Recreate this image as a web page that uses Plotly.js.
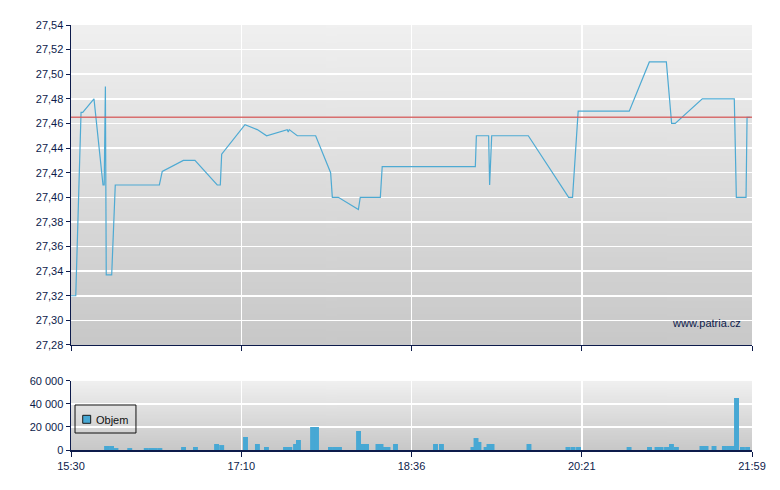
<!DOCTYPE html>
<html><head><meta charset="utf-8">
<script src="https://cdn.plot.ly/plotly-3.0.1.min.js"></script>
<style>html,body{margin:0;padding:0;background:#fff}#chart{width:780px;height:490px}</style>
</head><body><div id="chart"></div>
<script>
// x axis: trade-slot scale, labels at equal positions
const tickPos = [0, 100, 200, 300, 400];
const tickLabels = ['15:30', '17:10', '18:36', '20:21', '21:59'];

const priceX = [0, 2.8, 5.9, 6.9, 13.5, 18.8, 19.5, 20.2, 20.7, 23.9, 26.0, 51.9, 53.6, 66.0, 72.8, 85.9, 87.7, 88.5,
  102.2, 109.4, 114.9, 127.0, 127.6, 128.2, 132.9, 143.7, 152.5, 153.5, 157.0, 168.8, 169.9, 181.7, 182.8,
  237.5, 238.1, 245.3, 245.9, 247.1, 268.6, 292.3, 294.6, 297.9, 327.9, 339.7, 349.7, 352.8, 354.9,
  370.8, 389.6, 390.8, 396.5, 397.1, 399];
const priceY = [27.32, 27.32, 27.469, 27.469, 27.48, 27.41, 27.41, 27.49, 27.337, 27.337, 27.41, 27.41, 27.421, 27.43, 27.43, 27.41, 27.41, 27.435,
  27.459, 27.455, 27.45, 27.455, 27.453, 27.455, 27.45, 27.45, 27.42, 27.40, 27.40, 27.39, 27.40, 27.40, 27.425,
  27.425, 27.45, 27.45, 27.41, 27.45, 27.45, 27.40, 27.40, 27.47, 27.47, 27.51, 27.51, 27.46, 27.46,
  27.48, 27.48, 27.40, 27.40, 27.465, 27.465];

const refPrice = 27.465;

const volX = [20.9, 23.8, 26.4, 34.5, 44.2, 46.9, 49.5, 52.2, 66.1, 73.1, 85.5, 88.5, 102.5, 109.5, 114.8,
  126.0, 128.5, 131.9, 133.6, 141.9, 144.2, 152.4, 155.1, 157.7, 168.9, 171.5, 173.6, 180.3, 182.1, 184.4, 186.2,
  190.6, 214.1, 217.6, 236.1, 237.9, 239.6, 243.8, 245.5, 247.3, 269.0, 291.9, 294.9, 298.1, 327.8, 339.8,
  344.2, 346.6, 349.8, 352.7, 355.6, 370.6, 373.0, 377.7, 383.8, 386.4, 388.7, 390.9, 394.4, 397.4];
const volY = [3500, 3500, 1700, 1700, 1700, 1700, 1700, 1700, 2600, 2600, 5200, 4300, 11300, 5200, 2600,
  2600, 2600, 5200, 8700, 20000, 20000, 2600, 2600, 2600, 16500, 5200, 5200, 5200, 5200, 2600, 2600,
  5200, 5200, 5200, 2600, 10400, 7000, 2600, 5200, 5200, 5200, 2600, 2600, 2600, 2600, 2600,
  2600, 2600, 2600, 5200, 2600, 3500, 3500, 3500, 3500, 3500, 3500, 45200, 2600, 2600];

const volName = 'Objem';
const watermark = 'www.patria.cz';

function gradient(top, bottom) {
  const c = document.createElement('canvas');
  c.width = 4; c.height = 256;
  const g = c.getContext('2d');
  const lg = g.createLinearGradient(0, 0, 0, 256);
  lg.addColorStop(0, top); lg.addColorStop(1, bottom);
  g.fillStyle = lg; g.fillRect(0, 0, 4, 256);
  return c.toDataURL('image/png');
}
const bg = gradient('#f0f0f0', '#c8c8c8');

const navy = '#0d1b4b';
const barColor = '#47a8d4';
const tickFont = {family: 'Liberation Sans, Arial, sans-serif', size: 11, color: navy};
const priceDom = [0.2471, 1];
const volDom = [0, 0.1624];

const traces = [
  {x: priceX, y: priceY, type: 'scatter', mode: 'lines', xaxis: 'x', yaxis: 'y',
   line: {color: '#4eaad3', width: 1.2}, showlegend: false, hoverinfo: 'skip'},
  {x: [tickPos[0], tickPos[tickPos.length - 1]], y: [refPrice, refPrice], type: 'scatter', mode: 'lines',
   xaxis: 'x', yaxis: 'y', line: {color: 'rgba(214,90,90,0.85)', width: 1.5}, showlegend: false, hoverinfo: 'skip'},
  {x: volX, y: volY, type: 'bar', xaxis: 'x2', yaxis: 'y2', width: 2.9,
   marker: {color: barColor, line: {width: 0}}, showlegend: false, name: volName}
];

const xCommon = {
  range: [0, 400], tickvals: tickPos, ticktext: tickLabels, showgrid: true, gridcolor: '#ffffff', gridwidth: 1.5,
  showline: true, linecolor: navy, linewidth: 1.5, ticks: 'outside', ticklen: 5, tickcolor: navy, tickwidth: 1,
  zeroline: false, fixedrange: true, tickfont: tickFont
};

const layout = {
  width: 780, height: 490,
  margin: {l: 71, r: 28, t: 25, b: 40},
  paper_bgcolor: '#ffffff', plot_bgcolor: '#dcdcdc',
  separators: ', ',
  showlegend: false,
  barmode: 'overlay',
  xaxis: Object.assign({}, xCommon, {anchor: 'y', showticklabels: false}),
  yaxis: {domain: priceDom, range: [27.28, 27.54], dtick: 0.02, tick0: 27.28, tickformat: '.2f',
    showgrid: true, gridcolor: '#ffffff', gridwidth: 1.5, showline: true, linecolor: navy, linewidth: 1.5,
    ticks: 'outside', ticklen: 4, tickcolor: navy, zeroline: false, tickfont: tickFont, fixedrange: true},
  xaxis2: Object.assign({}, xCommon, {anchor: 'y2', showticklabels: true}),
  yaxis2: {domain: volDom, range: [0, 60000], dtick: 20000, tickformat: ',d',
    showgrid: true, gridcolor: '#ffffff', gridwidth: 1.5, showline: true, linecolor: navy, linewidth: 1.5,
    ticks: 'outside', ticklen: 4, tickcolor: navy, zeroline: false, tickfont: tickFont, fixedrange: true},
  images: [
    {source: bg, xref: 'paper', yref: 'paper', x: 0, y: priceDom[1], sizex: 1, sizey: priceDom[1] - priceDom[0],
     xanchor: 'left', yanchor: 'top', sizing: 'stretch', layer: 'below'},
    {source: bg, xref: 'paper', yref: 'paper', x: 0, y: volDom[1], sizex: 1, sizey: volDom[1] - volDom[0],
     xanchor: 'left', yanchor: 'top', sizing: 'stretch', layer: 'below'}
  ],
  shapes: [
    // legend box
    {type: 'rect', xref: 'paper', yref: 'paper', x0: 0.0059, x1: 0.0954, y0: 0.040, y1: 0.1059,
     line: {color: '#111111', width: 1}, fillcolor: 'rgba(0,0,0,0)', layer: 'above'},
    // legend swatch
    {type: 'rect', xref: 'paper', yref: 'paper', x0: 0.0172, x1: 0.0289, y0: 0.0628, y1: 0.0816,
     line: {color: '#1a1a1a', width: 1}, fillcolor: barColor, layer: 'above'}
  ],
  annotations: [
    {text: volName, xref: 'paper', yref: 'paper', x: 0.0345, y: 0.0706, xanchor: 'left', yanchor: 'middle',
     showarrow: false, font: {family: 'Liberation Sans, Arial, sans-serif', size: 11, color: '#111111'}},
    {text: watermark, xref: 'paper', yref: 'paper', x: 0.987, y: 0.2988, xanchor: 'right', yanchor: 'middle',
     showarrow: false, font: {family: 'Liberation Sans, Arial, sans-serif', size: 11, color: navy}}
  ]
};

Plotly.newPlot('chart', traces, layout, {displayModeBar: false, staticPlot: true});
</script>
</body></html>
